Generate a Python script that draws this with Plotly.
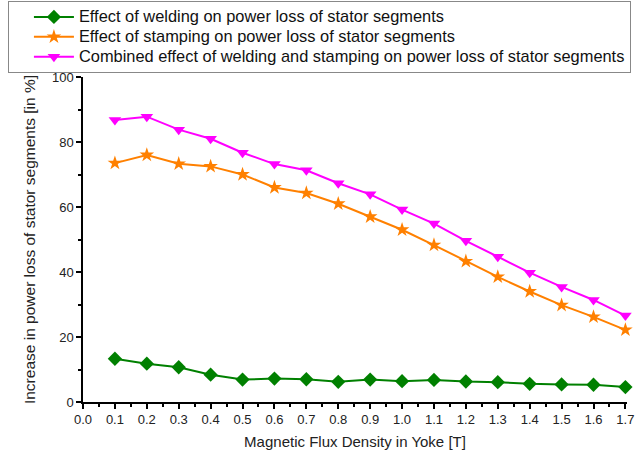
import plotly.graph_objects as go

x_vals = [0.1, 0.2, 0.3, 0.4, 0.5, 0.6, 0.7, 0.8, 0.9, 1.0, 1.1, 1.2, 1.3, 1.4, 1.5, 1.6, 1.7]
welding = [13.3, 11.8, 10.7, 8.4, 6.9, 7.2, 7.0, 6.2, 6.9, 6.4, 6.8, 6.3, 6.1, 5.6, 5.4, 5.3, 4.6]
stamping = [73.5, 76.0, 73.3, 72.5, 70.0, 66.0, 64.3, 61.0, 57.0, 53.0, 48.3, 43.3, 38.5, 34.0, 29.8, 26.2, 22.2]
combined = [86.8, 87.8, 83.8, 81.0, 76.7, 73.2, 71.3, 67.3, 63.9, 59.2, 54.9, 49.6, 44.7, 39.8, 35.4, 31.4, 26.6]

names = [
    "Effect of welding on power loss of stator segments",
    "Effect of stamping on power loss of stator segments",
    "Combined effect of welding and stamping on power loss of stator segments",
]
x_ticks = [round(i * 0.1, 1) for i in range(18)]
x_tick_labels = [f"{v:.1f}" for v in x_ticks]


def big(s):
    return f'<span style="font-size:16.4px">{s}</span>'


fig = go.Figure()
fig.add_trace(go.Scatter(x=x_vals, y=welding, name=big(names[0]), mode="lines+markers",
                         line=dict(color="#008000", width=2),
                         marker=dict(symbol="diamond", size=11, color="#008000"),
                         cliponaxis=False))
fig.add_trace(go.Scatter(x=x_vals, y=stamping, name=big(names[1]), mode="lines+markers",
                         line=dict(color="#FF8000", width=2),
                         marker=dict(symbol="star", size=11, color="#FF8000"),
                         cliponaxis=False))
fig.add_trace(go.Scatter(x=x_vals, y=combined, name=big(names[2]), mode="lines+markers",
                         line=dict(color="#FF00FF", width=2),
                         marker=dict(symbol="triangle-down", size=11, color="#FF00FF"),
                         cliponaxis=False))

font = "Liberation Sans, Arial, sans-serif"
fig.update_layout(
    width=638, height=455,
    margin=dict(l=83, r=11, t=77, b=53, autoexpand=False),
    plot_bgcolor="white", paper_bgcolor="white",
    font=dict(family=font, color="#222222"),
    showlegend=True,
    legend=dict(x=-0.138, y=1.234, xanchor="left", yanchor="top",
                bordercolor="#888888", borderwidth=1, bgcolor="white",
                font=dict(size=13, family=font, color="#111111"),
                tracegroupgap=0, itemwidth=40, indentation=20),
    xaxis=dict(range=[0, 1.705], tickvals=x_ticks, ticktext=x_tick_labels,
               showgrid=False, zeroline=False, showline=True, linecolor="black", linewidth=1.5,
               ticks="outside", ticklen=5, tickwidth=1.5, tickcolor="black",
               tickfont=dict(size=13, family=font),
               minor=dict(dtick=0.05, tick0=0, ticks="outside", ticklen=3, tickwidth=1.5, tickcolor="black"),
               title=dict(text="Magnetic Flux Density in Yoke [T]", font=dict(size=15, family=font), standoff=10)),
    yaxis=dict(range=[0, 100], tickvals=[0, 20, 40, 60, 80, 100],
               showgrid=False, zeroline=False, showline=True, linecolor="black", linewidth=1.5,
               ticks="outside", ticklen=5, tickwidth=1.5, tickcolor="black",
               tickfont=dict(size=13, family=font),
               minor=dict(dtick=10, tick0=0, ticks="outside", ticklen=3, tickwidth=1.5, tickcolor="black"),
               title=dict(text="Increase in power loss of stator segments [in %]", font=dict(size=15.5, family=font), standoff=13)),
)
fig.write_html("out.html")
